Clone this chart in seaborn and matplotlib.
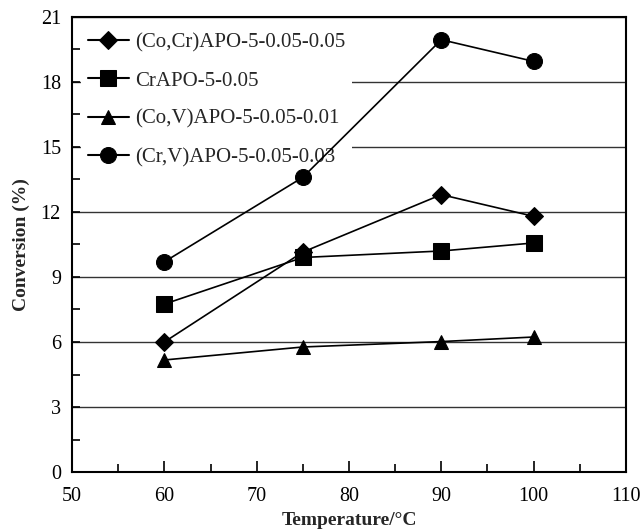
import pandas as pd
import matplotlib
matplotlib.use('Agg')
import matplotlib.pyplot as plt
import seaborn as sns
from matplotlib.ticker import MultipleLocator

# values
temps = [60, 75, 90, 100]
samples = ['(Co,Cr)APO-5-0.05-0.05', 'CrAPO-5-0.05',
           '(Co,V)APO-5-0.05-0.01', '(Cr,V)APO-5-0.05-0.03']
co_cr = [6.0, 10.15, 12.8, 11.8]
cr = [7.75, 9.9, 10.2, 10.57]
co_v = [5.17, 5.77, 6.02, 6.23]
cr_v = [9.7, 13.6, 19.95, 18.95]

rows = []
for name, vals in zip(samples, [co_cr, cr, co_v, cr_v]):
    for t, v in zip(temps, vals):
        rows.append({'Temperature': t, 'Conversion': v, 'Sample': name})
df = pd.DataFrame(rows)

sns.set_style('white')
plt.rcParams['font.family'] = ['Liberation Serif', 'DejaVu Serif']

fig = plt.figure(figsize=(6.43, 5.30), dpi=100)
ax = fig.add_axes([0.112, 0.1094, 0.8615, 0.8586])

markers = {samples[0]: 'D', samples[1]: 's', samples[2]: '^', samples[3]: 'o'}
sizes = {samples[0]: 9.5, samples[1]: 11, samples[2]: 10.5, samples[3]: 11.5}

sns.lineplot(data=df, x='Temperature', y='Conversion', style='Sample',
             style_order=samples, markers=markers, dashes=False,
             color='black', linewidth=1.2, ax=ax, zorder=3)

for line, name in zip(ax.lines, samples):
    line.set_markersize(sizes[name])
    line.set_markerfacecolor('black')
    line.set_markeredgecolor('black')

ax.set_xlim(50, 110)
ax.set_ylim(0, 21)
ax.xaxis.set_major_locator(MultipleLocator(10))
ax.xaxis.set_minor_locator(MultipleLocator(5))
ax.yaxis.set_major_locator(MultipleLocator(3))
ax.yaxis.set_minor_locator(MultipleLocator(1.5))
ax.tick_params(axis='both', which='both', direction='in', labelsize=14.5,
               top=False, right=False, bottom=True, left=True, colors='black')
ax.tick_params(axis='x', which='major', length=8, width=1.2, pad=11)
ax.tick_params(axis='x', which='minor', length=6, width=1.2)
ax.tick_params(axis='y', which='major', length=6, width=1.2, pad=8)
ax.tick_params(axis='y', which='minor', length=6, width=1.2)

ax.grid(axis='y', which='major', color='#333333', linewidth=1.0, zorder=0)
ax.set_axisbelow(True)
for s in ax.spines.values():
    s.set_color('black')
    s.set_linewidth(1.5)

ax.set_xlabel('Temperature/°C', fontsize=14, fontweight='bold', labelpad=4)
ax.set_ylabel('Conversion (%)', fontsize=14, fontweight='bold', labelpad=8)

leg = ax.legend(loc='upper left', fontsize=15, frameon=True, framealpha=1,
                edgecolor='white', facecolor='white', borderpad=0.3,
                labelspacing=0.9, handlelength=2.0, handletextpad=0.3,
                borderaxespad=0.45)
leg.get_frame().set_linewidth(0)
leg.set_zorder(2)
for h, name in zip(leg.legend_handles, samples):
    h.set_markersize(sizes[name])
    h.set_markerfacecolor('black')
    h.set_markeredgecolor('black')
    h.set_linewidth(1.5)

fig.savefig('out.png', dpi=100)
